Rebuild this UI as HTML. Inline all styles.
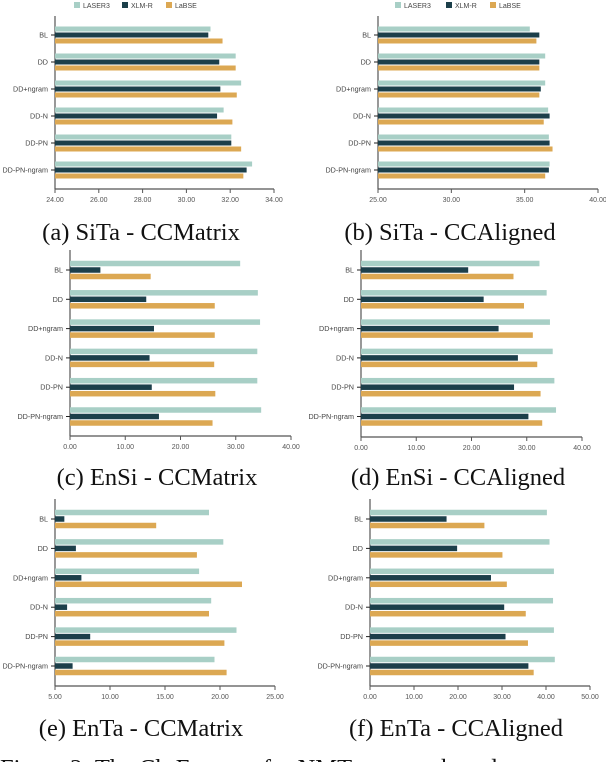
<!DOCTYPE html>
<html><head><meta charset="utf-8"><style>
body{margin:0;width:606px;height:762px;overflow:hidden;background:#fff;position:relative;font-family:"Liberation Serif",serif}
svg{position:absolute;left:0;top:0}
</style></head><body>
<svg id="fig" width="606" height="762"></svg>
<script>
const categories=["BL","DD","DD+ngram","DD-N","DD-PN","DD-PN-ngram"];
const seriesNames=["LASER3","XLM-R","LaBSE"];
const colors=["#a8cfc6","#1c3f4a","#dca853"];
const aLaser=[31.1,32.25,32.5,31.7,32.05,33.0];
const aXlmr=[31.0,31.5,31.55,31.4,32.05,32.75];
const aLabse=[31.65,32.25,32.3,32.1,32.5,32.6];
const aTicks=[24,26,28,30,32,34];
const bLaser=[35.35,36.4,36.4,36.6,36.65,36.7];
const bXlmr=[36.0,36.0,36.1,36.7,36.7,36.65];
const bLabse=[35.8,36.0,36.0,36.3,36.9,36.4];
const bTicks=[25,30,35,40];
const cLaser=[30.8,34.0,34.4,33.9,33.9,34.6];
const cXlmr=[5.5,13.8,15.2,14.4,14.8,16.1];
const cLabse=[14.6,26.2,26.2,26.1,26.3,25.8];
const cTicks=[0,10,20,30,40];
const dLaser=[32.3,33.6,34.2,34.7,35.0,35.3];
const dXlmr=[19.4,22.2,24.9,28.4,27.7,30.3];
const dLabse=[27.6,29.5,31.1,31.9,32.5,32.8];
const dTicks=[0,10,20,30,40];
const eLaser=[19.0,20.3,18.1,19.2,21.5,19.5];
const eXlmr=[5.85,6.9,7.4,6.1,8.2,6.6];
const eLabse=[14.2,17.9,22.0,19.0,20.4,20.6];
const eTicks=[5,10,15,20,25];
const fLaser=[40.2,40.8,41.8,41.6,41.8,42.0];
const fXlmr=[17.4,19.8,27.5,30.5,30.8,36.0];
const fLabse=[26.0,30.1,31.1,35.4,35.9,37.2];
const fTicks=[0,10,20,30,40,50];

const NS="http://www.w3.org/2000/svg";
const svg=document.getElementById('fig');
function mk(tag,attrs,parent,text){const e=document.createElementNS(NS,tag);for(const k in attrs)e.setAttribute(k,attrs[k]);if(text!==undefined)e.textContent=text;(parent||svg).appendChild(e);return e;}

function panel(id,cfg,series,ticks){
  const g=mk('g',{});
  
  
  const tmin=ticks[0],tmax=ticks[ticks.length-1];
  const xs=v=>cfg.x0+(v-tmin)/(tmax-tmin)*(cfg.x1-cfg.x0);
  const ys=i=>cfg.c0+i*cfg.step;
  const ya=mk('line',{x1:cfg.x0,x2:cfg.x0,y1:cfg.top,y2:cfg.bottom,stroke:'#555','stroke-width':1.2},g);
  
  
  const xa=mk('line',{x1:cfg.x0,x2:cfg.x1,y1:cfg.bottom,y2:cfg.bottom,stroke:'#555','stroke-width':1.2},g);
  
  
  ticks.forEach(t=>{
    const x=xs(t);
    mk('line',{x1:x,x2:x,y1:cfg.bottom,y2:cfg.bottom+4,stroke:'#555','stroke-width':1},g);
    const tl=mk('text',{x:x,y:cfg.bottom+13,'text-anchor':'middle','font-size':7,fill:'#555','font-family':'Liberation Sans, sans-serif'},g,t.toFixed(2));
    
    
  });
  categories.forEach((c,i)=>{
    const y=ys(i);
    mk('line',{x1:cfg.x0-4,x2:cfg.x0+4,y1:y,y2:y,stroke:'#222','stroke-width':1},g);
    const cl=mk('text',{x:cfg.x0-7,y:y+2.5,'text-anchor':'end','font-size':7.2,fill:'#444','font-family':'Liberation Sans, sans-serif'},g,c);
    
    
    series.forEach((s,k)=>{
      const v=s[i];
      const by=y+(k-1)*cfg.off-cfg.bh/2;
      const r=mk('rect',{x:cfg.x0,y:by,width:Math.max(0,xs(v)-cfg.x0),height:cfg.bh,fill:colors[k]},g);
      
      
    });
  });
  const cap=mk('text',{x:cfg.capx,y:cfg.capy,'text-anchor':'middle','font-size':24.5,fill:'#111','font-family':'Liberation Serif, serif'},g,cfg.caption);
  
  
}
function legend(id,xs){
  seriesNames.forEach((n,k)=>{
    const r=mk('rect',{x:xs[k],y:2,width:6,height:6,fill:colors[k]});
    
    
    const t=mk('text',{x:xs[k]+9,y:8,'font-size':7,fill:'#444','font-family':'Liberation Sans, sans-serif'},svg,n);
    
    
  });
}
legend('a',[74,122,166]);
legend('b',[395,446,490]);
panel('a',{x0:55,x1:274,top:16,bottom:189,c0:35,step:27,off:6,bh:5,capx:141,capy:240,caption:'(a) SiTa - CCMatrix'},[aLaser,aXlmr,aLabse],aTicks);
panel('b',{x0:378,x1:598,top:16,bottom:189,c0:35,step:27,off:6,bh:5,capx:450,capy:240,caption:'(b) SiTa - CCAligned'},[bLaser,bXlmr,bLabse],bTicks);
panel('c',{x0:70,x1:291,top:250,bottom:436,c0:270,step:29.3,off:6.5,bh:5.5,capx:157,capy:485,caption:'(c) EnSi - CCMatrix'},[cLaser,cXlmr,cLabse],cTicks);
panel('d',{x0:361,x1:582,top:250,bottom:437,c0:270,step:29.3,off:6.5,bh:5.5,capx:458,capy:485,caption:'(d) EnSi - CCAligned'},[dLaser,dXlmr,dLabse],dTicks);
panel('e',{x0:55,x1:275,top:499,bottom:686,c0:519,step:29.4,off:6.5,bh:5.5,capx:141,capy:736,caption:'(e) EnTa - CCMatrix'},[eLaser,eXlmr,eLabse],eTicks);
panel('f',{x0:370,x1:590,top:499,bottom:686,c0:519,step:29.4,off:6.5,bh:5.5,capx:456,capy:736,caption:'(f) EnTa - CCAligned'},[fLaser,fXlmr,fLabse],fTicks);
const fc=mk('text',{x:0,y:776,'font-size':24.5,fill:'#111','font-family':'Liberation Serif, serif'},svg,'Figure 2: The ChrF scores for NMT systems based on');


</script>
</body></html>
